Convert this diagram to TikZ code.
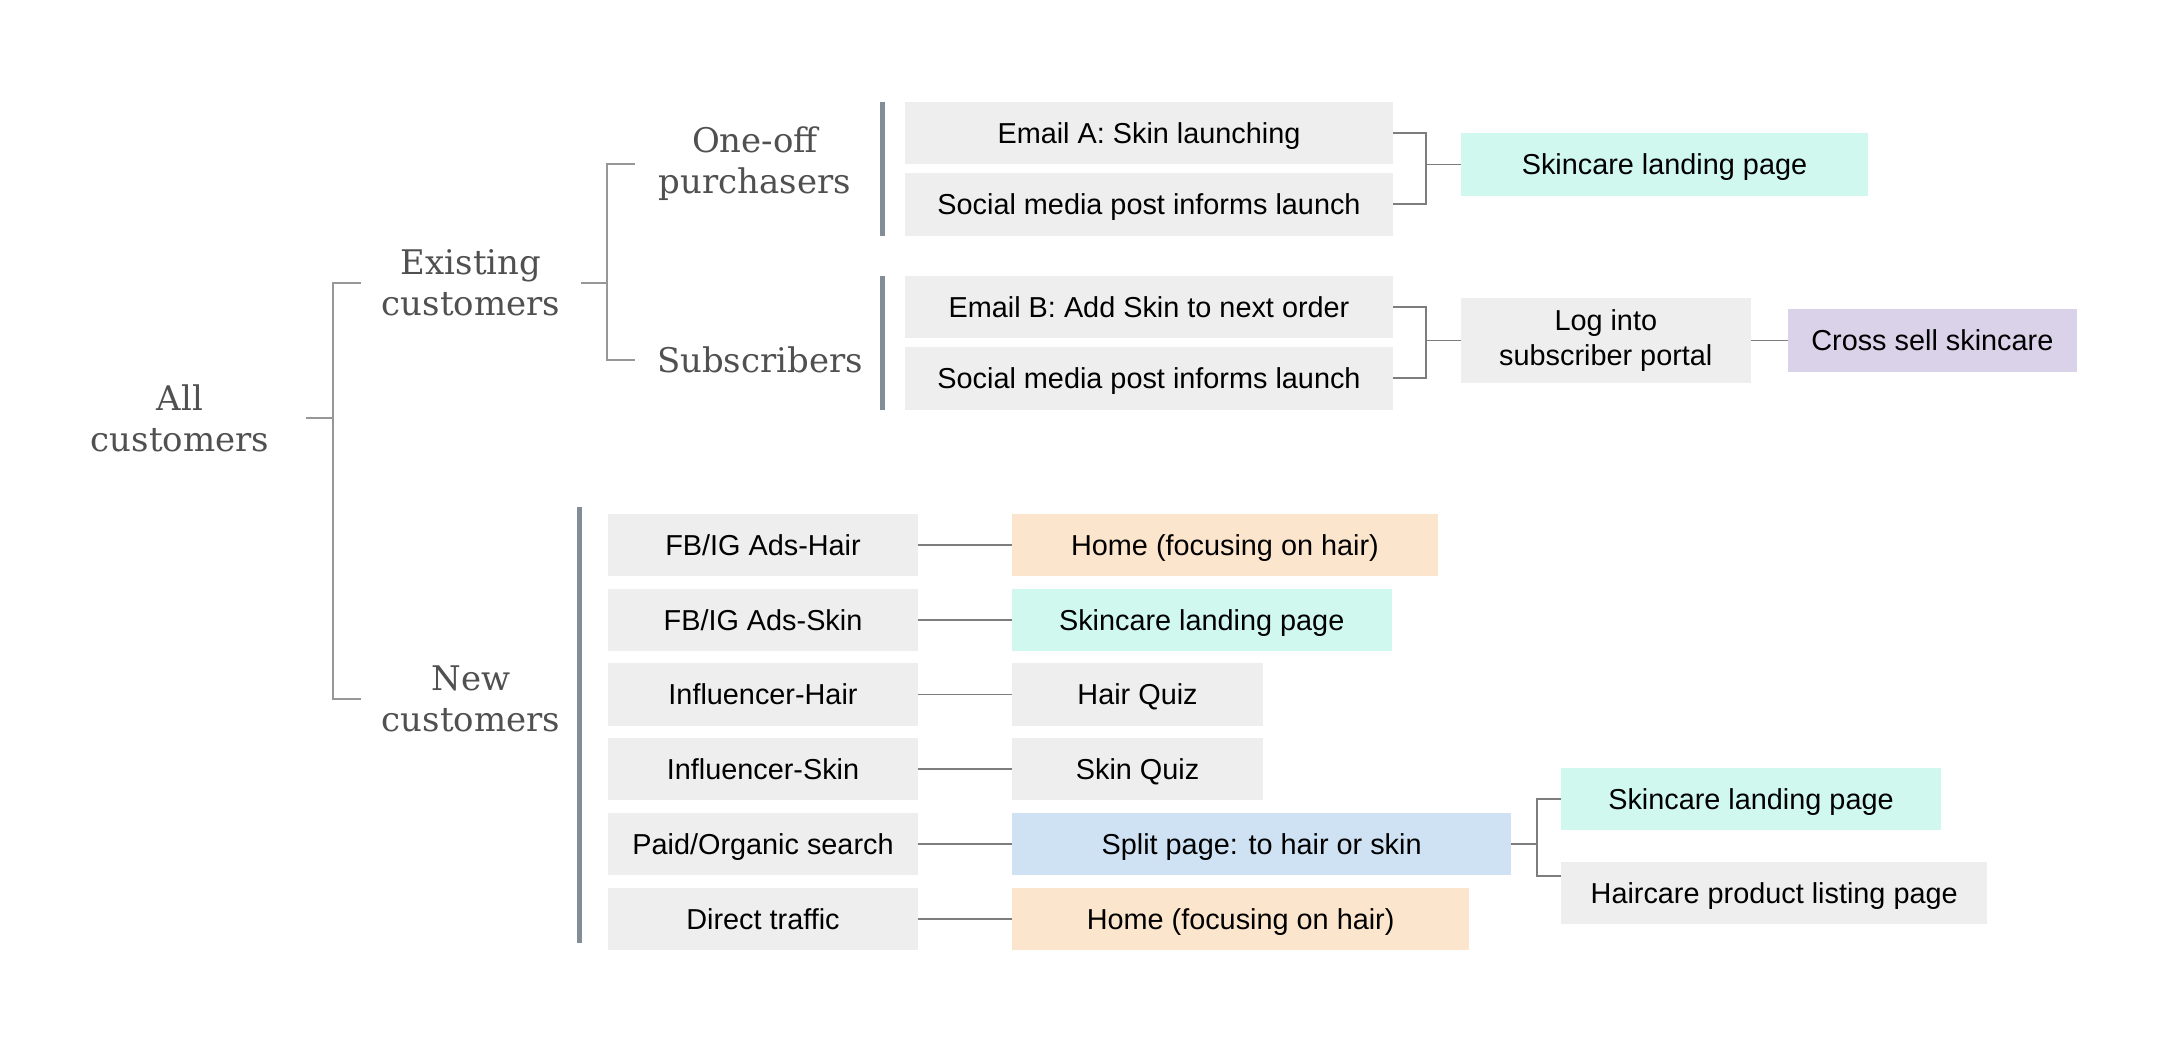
\documentclass[tikz,border=0pt]{standalone}
\usepackage{fontspec}
\newfontfamily\arialish{Liberation Sans}
\newfontfamily\slabish{DejaVu Serif}
\usetikzlibrary{positioning}
\definecolor{BoxGray}{RGB}{238,238,238}
\definecolor{SoftTeal}{RGB}{208,248,238}
\definecolor{SoftPeach}{RGB}{252,229,205}
\definecolor{SoftBlue}{RGB}{207,226,243}
\definecolor{SoftLilac}{RGB}{217,210,233}
\definecolor{BarGray}{RGB}{130,141,151}
\definecolor{LineGray}{RGB}{125,125,125}
\definecolor{LabelGray}{RGB}{80,80,80}
\tikzset{
  gpage/.style={fill=BoxGray,inner sep=0pt,outer sep=0pt,minimum height=0.623cm,
    text height=5.9pt,text depth=0pt,font=\arialish\fontsize{8.2}{9.8}\selectfont},
  skinpage/.style={gpage,fill=SoftTeal},
  homepage/.style={gpage,fill=SoftPeach},
  splitpage/.style={gpage,fill=SoftBlue},
  crosspage/.style={gpage,fill=SoftLilac},
  seg/.style={inner sep=0pt,outer sep=0pt,align=center,text=LabelGray,
    font=\slabish\fontsize{9.65}{11.7}\selectfont},
  tree/.style={draw=LineGray!80,line width=0.45pt},
  link/.style={draw=LineGray,line width=0.5pt},
  bar/.style={draw=BarGray,line width=1.4pt}
}

\begin{document}
\begin{tikzpicture}[x=0.01cm,y=-0.01cm]
  \useasboundingbox (0,0) rectangle (2160,1042);

  % customer segments
  \node[seg,minimum width=2.52cm] (all) at (180,418) {All\\customers};
  \node[seg,minimum width=2.2cm] (existing) at (471,283) {Existing\\customers};
  \node[seg,minimum width=2.2cm] (new) at (471,699) {New\\customers};
  \node[seg,minimum width=2.4cm] (oneoff) at (755,164) {One-off\\purchasers};
  \node[seg,minimum width=2.5cm] (subs) at (760,360) {Subscribers};

  \draw[tree] (all.east) -- ++(27,0) coordinate (kAll);
  \draw[tree] (existing.west) -| (kAll) |- (new.west);
  \draw[tree] (existing.east) -- ++(26,0) coordinate (kExist);
  \draw[tree] (oneoff.west) -| (kExist) |- (subs.west);

  % one-off purchasers
  \node[gpage,minimum width=4.88cm] (emailA) at (1149,133) {Email A: Skin launching};
  \node[gpage,minimum width=4.88cm,below=0.09cm of emailA] (socA) {Social media post informs launch};
  \node[skinpage,minimum width=4.07cm] (skinA) at (1664.5,164.5) {Skincare landing page};
  \coordinate[left=0.35cm of skinA] (jA);
  \draw[link] (emailA.east) -| (jA) |- (socA.east);
  \draw[link] (jA) -- (skinA.west);
  \draw[bar] ([xshift=-0.22cm]emailA.north west) -- ([xshift=-0.22cm]socA.south west);

  % subscribers
  \node[gpage,minimum width=4.88cm] (emailB) at (1149,307) {Email B: Add Skin to next order};
  \node[gpage,minimum width=4.88cm,below=0.09cm of emailB] (socB) {Social media post informs launch};
  \node[gpage,minimum width=2.895cm,minimum height=0.844cm,align=center,
    text height={},text depth={}] (portal) at (1605.8,340.5) {Log into\\subscriber portal};
  \node[crosspage,minimum width=2.886cm,right=0.373cm of portal] (cross) {Cross sell skincare};
  \coordinate[left=0.35cm of portal] (jB);
  \draw[link] (emailB.east) -| (jB) |- (socB.east);
  \draw[link] (jB) -- (portal.west);
  \draw[link] (portal) -- (cross);
  \draw[bar] ([xshift=-0.22cm]emailB.north west) -- ([xshift=-0.22cm]socB.south west);

  % new customers
  \node[gpage,minimum width=3.1cm] (fbHair) at (763,545) {FB/IG Ads-Hair};
  \node[gpage,minimum width=3.1cm,below=0.124cm of fbHair] (fbSkin) {FB/IG Ads-Skin};
  \node[gpage,minimum width=3.1cm,below=0.124cm of fbSkin] (inflHair) {Influencer-Hair};
  \node[gpage,minimum width=3.1cm,below=0.124cm of inflHair] (inflSkin) {Influencer-Skin};
  \node[gpage,minimum width=3.1cm,below=0.124cm of inflSkin] (search) {Paid/Organic search};
  \node[gpage,minimum width=3.1cm,below=0.124cm of search] (direct) {Direct traffic};

  \node[homepage,minimum width=4.26cm,right=0.937cm of fbHair] (homeA) {Home (focusing on hair)};
  \node[skinpage,minimum width=3.795cm,right=0.937cm of fbSkin] (skinB) {Skincare landing page};
  \node[gpage,minimum width=2.513cm,right=0.937cm of inflHair] (hairQuiz) {Hair Quiz};
  \node[gpage,minimum width=2.513cm,right=0.937cm of inflSkin] (skinQuiz) {Skin Quiz};
  \node[splitpage,minimum width=4.993cm,right=0.937cm of search] (splitPg) {Split page: to hair or skin};
  \node[homepage,minimum width=4.573cm,right=0.937cm of direct] (homeB) {Home (focusing on hair)};

  \foreach \src/\dst in {fbHair/homeA,fbSkin/skinB,inflHair/hairQuiz,inflSkin/skinQuiz,search/splitPg,direct/homeB}
    \draw[link] (\src) -- (\dst);
  \draw[bar] ([xshift=-0.28cm,yshift=0.07cm]fbHair.north west) -- ([xshift=-0.28cm,yshift=0.07cm]direct.south west);

  % split page
  \node[skinpage,minimum width=3.792cm] (skinC) at (1751,799) {Skincare landing page};
  \node[gpage,minimum width=4.256cm] (hcare) at (1774.2,893.3) {Haircare product listing page};
  \draw[link] (splitPg.east) -- ++(25.5,0) coordinate (kSplit);
  \draw[link] (skinC.west) -| (kSplit) |- ([yshift=0.176cm]hcare.west);
\end{tikzpicture}
\end{document}
